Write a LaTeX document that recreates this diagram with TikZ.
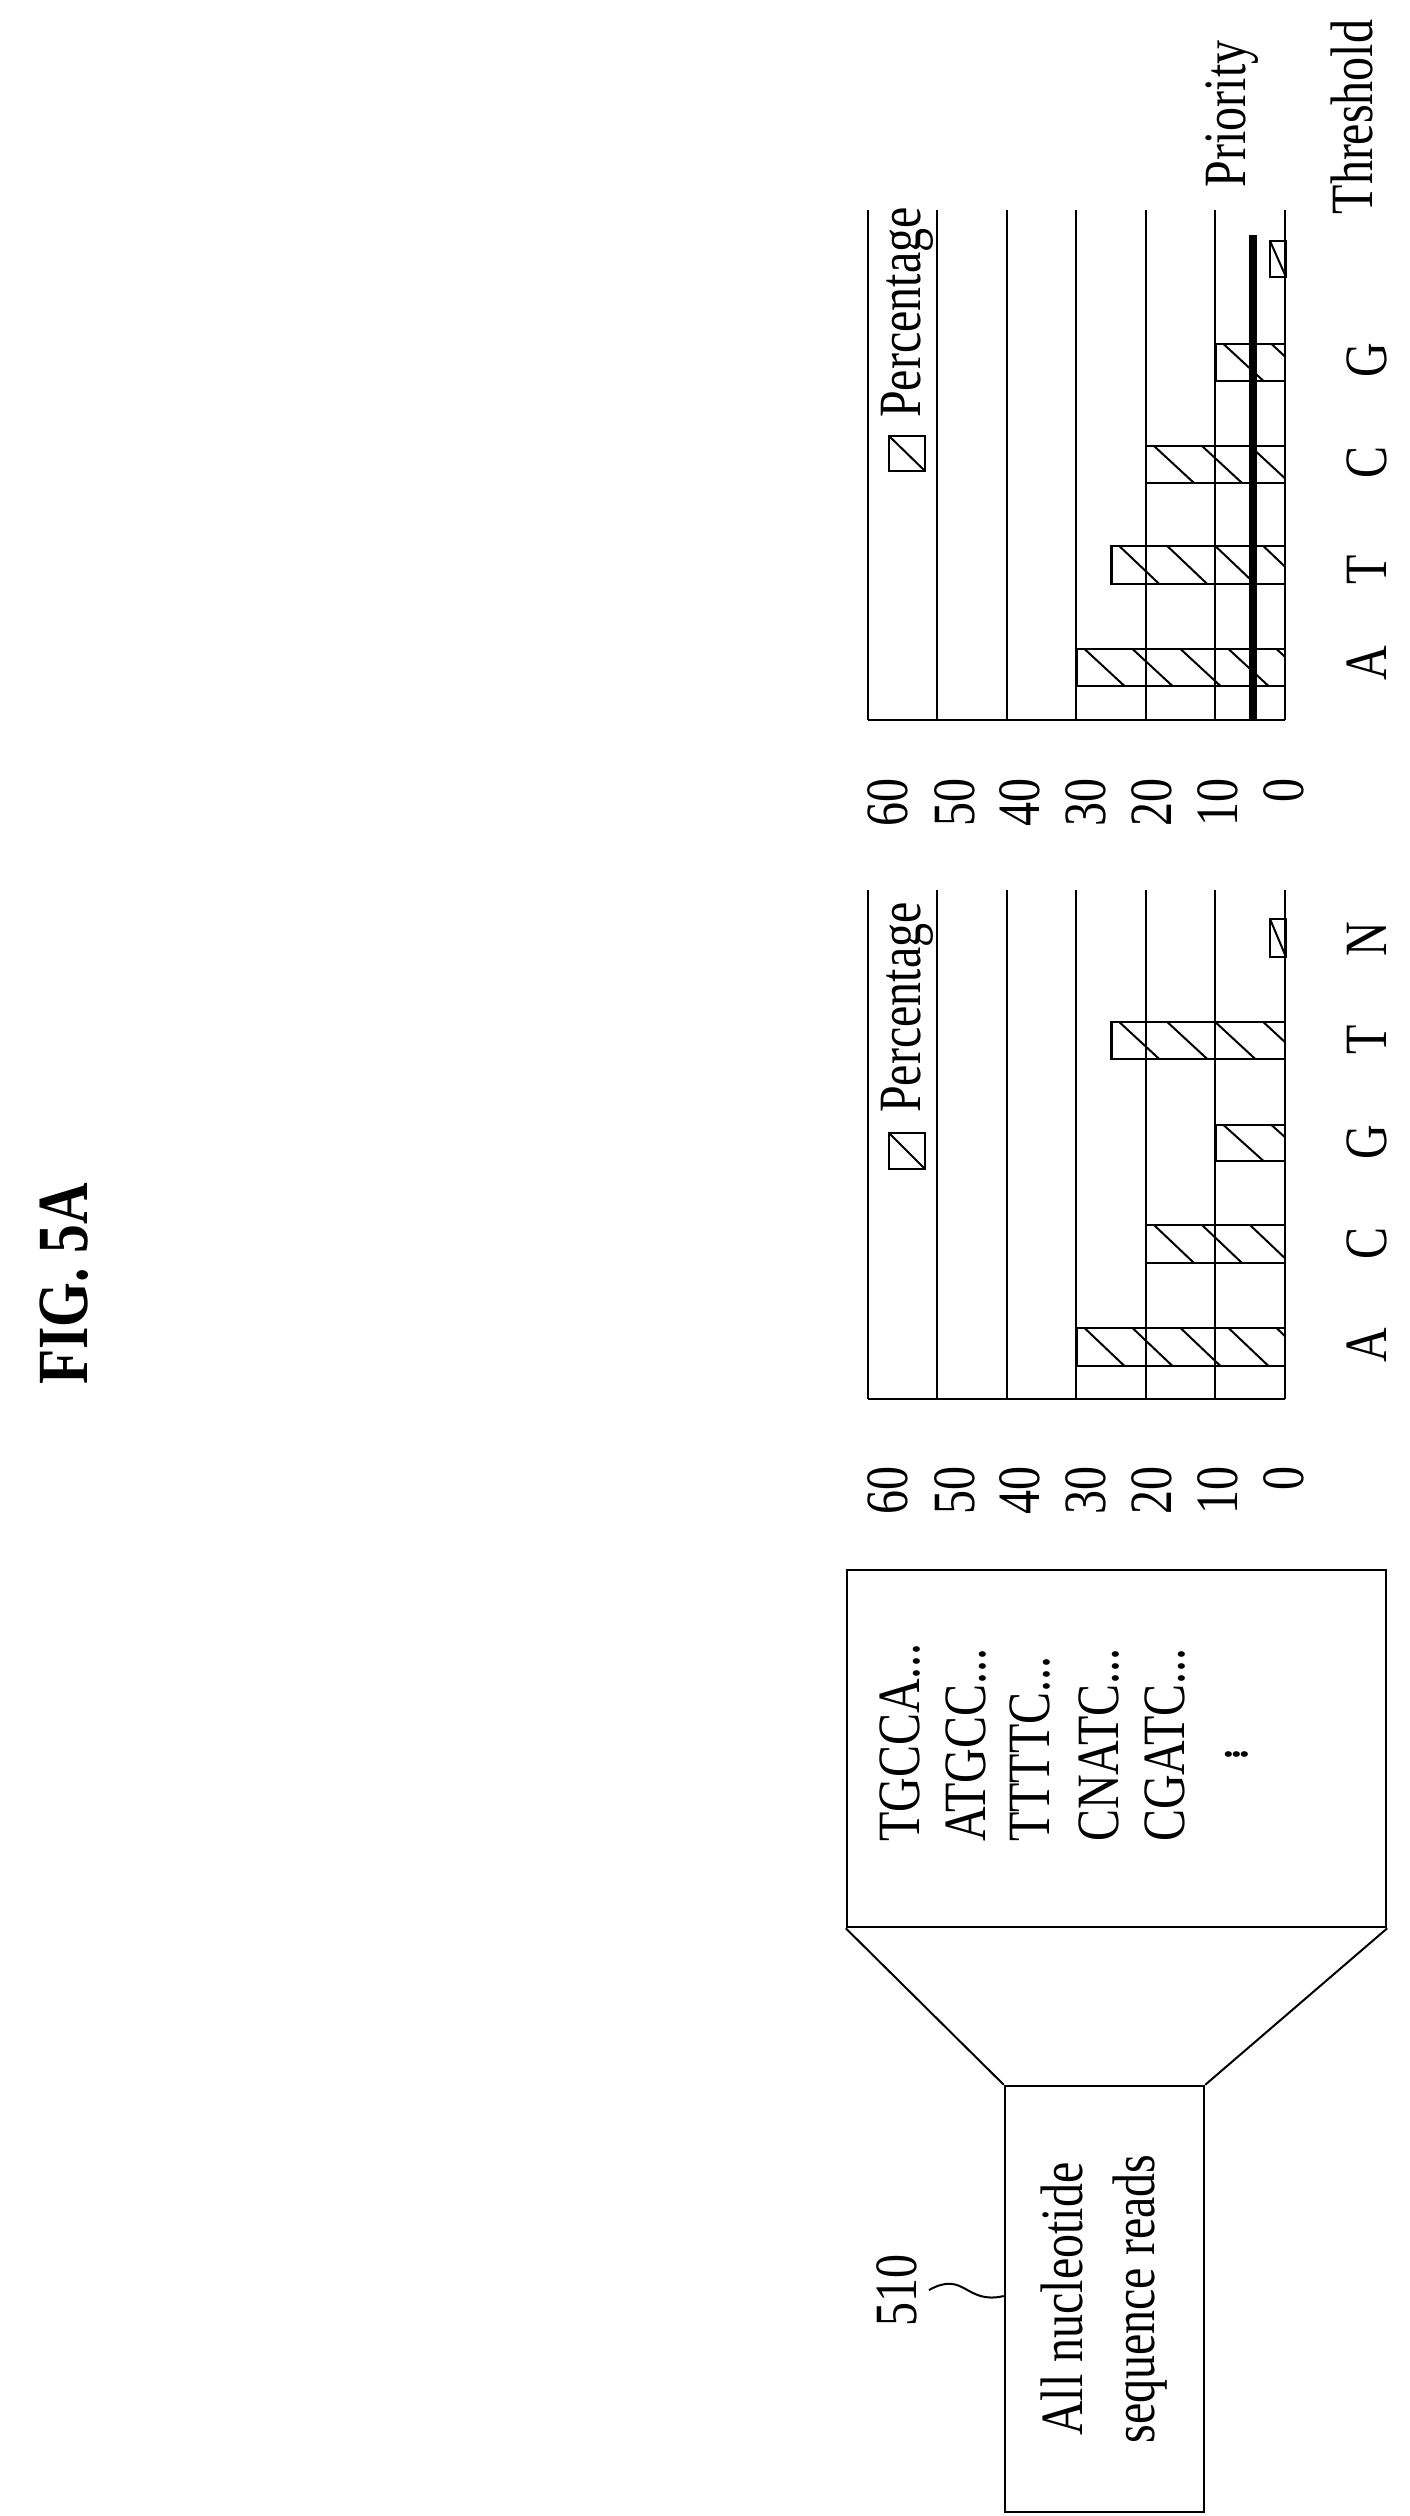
\documentclass[tikz,border=0pt]{standalone}
\usepackage{fontspec}
\setmainfont{Liberation Serif}[FakeStretch=0.8]
\usepackage{tikz}

\tikzset{
    lbl/.style={rotate=90, inner sep=0pt, font=\fontsize{60}{72}\selectfont},
    grid line/.style={line width=2pt},
    box/.style={draw, line width=2.5pt, inner sep=0pt},
}
% bar from value #1 down to 0, between rows #2 and #3
\newcommand{\chartbar}[3]{
    \begin{scope}
        \clip (1285-#1*6.95, #2) rectangle (1285, #3);
        \foreach \k in {0,...,12}
            \draw[line width=2pt] (1285-#1*6.95+\k*48-40, #2) -- ++(40, #3-#2);
    \end{scope}
    \draw[line width=2.5pt] (1285-#1*6.95, #2) rectangle (1285, #3);
}
\newcommand{\legendbox}[4]{
    \draw[line width=2.5pt] (#1, #3) rectangle (#2, #4);
    \draw[line width=2pt] (#1, #3) -- (#2, #4);
}

\begin{document}
\begin{tikzpicture}[x=1pt, y=-1pt]
    \useasboundingbox (0, 0) rectangle (1409, 2516);

    \node[rotate=90, font=\fontsize{72}{80}\selectfont\bfseries] (title) at (64, 1284) {FIG. 5A};

    % reads
    \node[box, minimum width=539pt, minimum height=357pt] (reads) at (1116.5, 1748.5) {};
    \foreach \s/\x in {TGCCA/900, ATGCC/966, TTTTC/1030, CNATC/1099, CGATC/1165}
        \node[lbl, anchor=west] at (\x, 1842) {\s...};
    \node[lbl] (dots) at (1234, 1754) {$\vdots$};
    \node[box, minimum width=199pt, minimum height=426pt] (allreads) at (1104.5, 2299) {};
    \node[lbl, align=center] (alltext) at (allreads) {All nucleotide\\sequence reads};
    \draw[line width=2pt] (reads.south west) -- (allreads.north west);
    \draw[line width=2pt] (reads.south east) -- (allreads.north east);
    \node[lbl] (ref) at (897, 2290) {510};
    \draw[line width=2pt] (929, 2290) .. controls (965, 2270) and (965, 2305) .. (allreads.west |- 0, 2296);

    % first chart
    \foreach \x in {868, 937, 1007, 1076, 1146, 1215, 1285}
        \draw[grid line] (\x, 210) -- (\x, 720);
    \draw[grid line] (868, 720) -- (1285, 720);
    \chartbar{30}{649}{686}
    \chartbar{25}{546}{584}
    \chartbar{20}{446}{483}
    \chartbar{10}{344}{381}
    \legendbox{1270}{1286}{241}{277}
    \draw[line width=8pt] (1253, 235) -- (1253, 720);
    \legendbox{889}{925}{436}{471}
    \node[lbl, anchor=west] (leg1) at (907, 418) {Percentage};
    \foreach \v/\x in {60/888, 50/955, 40/1020, 30/1086, 20/1152, 10/1218}
        \node[lbl] at (\x, 802) {\v};
    \node[lbl] at (1284, 790) {0};
    \foreach \c/\y in {A/663, T/570, C/462, G/360}
        \node[lbl] at (1367, \y) {\c};
    \node[lbl] (prio) at (1232, 114) {Priority};
    \node[lbl] (thr) at (1352, 117) {Threshold};

    % second chart
    \foreach \x in {868, 937, 1007, 1076, 1146, 1215, 1285}
        \draw[grid line] (\x, 890) -- (\x, 1399);
    \draw[grid line] (868, 1399) -- (1285, 1399);
    \chartbar{30}{1328}{1366}
    \chartbar{20}{1225}{1263}
    \chartbar{10}{1125}{1161}
    \chartbar{25}{1022}{1059}
    \legendbox{1270}{1286}{919}{957}
    \legendbox{889}{925}{1133}{1169}
    \node[lbl, anchor=west] (leg2) at (907, 1113) {Percentage};
    \foreach \v/\x in {60/888, 50/955, 40/1020, 30/1086, 20/1152, 10/1218}
        \node[lbl] at (\x, 1490) {\v};
    \node[lbl] at (1284, 1478) {0};
    \foreach \c/\y in {A/1345, C/1243, G/1142, T/1040, N/939}
        \node[lbl] at (1367, \y) {\c};
\end{tikzpicture}
\end{document}
